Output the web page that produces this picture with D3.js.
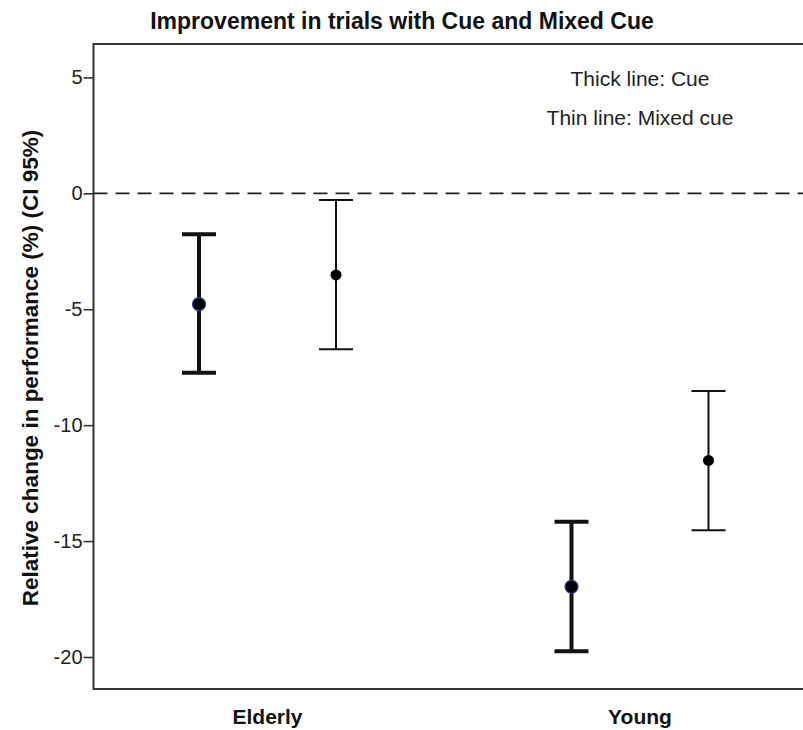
<!DOCTYPE html>
<html>
<head>
<meta charset="utf-8">
<script src="https://cdn.jsdelivr.net/npm/d3@7"></script>
<style>
  body { margin: 0; background: #fff; }
  svg { display: block; font-family: "Liberation Sans", Arial, sans-serif; }
</style>
</head>
<body>
<div id="chart"></div>
<script>
// data
const groups = ["Elderly", "Young"];
const series = ["Cue", "Mixed cue"];
const means = [[-4.78, -3.52], [-16.97, -11.52]];
const lower = [[-7.74, -6.73], [-19.75, -14.53]];
const upper = [[-1.77, -0.29], [-14.17, -8.53]];
const yTicks = [5, 0, -5, -10, -15, -20];
const legendLines = ["Thick line: Cue", "Thin line: Mixed cue"];

const w = 803, h = 730;
const plotLeft = 93.5, plotTop = 44, plotBottom = 689;

const svg = d3.select("#chart").append("svg")
  .attr("width", w).attr("height", h);

// scales
const y = d3.scaleLinear().domain([6.44, -21.38]).range([plotTop, plotBottom]);
const x = d3.scalePoint().domain(groups).range([267.5, 640]);
const off = d3.scalePoint().domain(series).range([-68.5, 68.5]);

const rows = [];
groups.forEach((g, i) => series.forEach((s, j) => rows.push({
  g, s, m: means[i][j], lo: lower[i][j], hi: upper[i][j]
})));

// title
svg.append("text")
  .attr("x", 402).attr("y", 29)
  .attr("text-anchor", "middle")
  .attr("font-size", 23).attr("font-weight", "bold").attr("fill", "#111")
  .text("Improvement in trials with Cue and Mixed Cue");

// frame (right side runs off the picture)
svg.append("path")
  .attr("d", `M${w + 10},${plotTop}H${plotLeft}V${plotBottom}H${w + 10}`)
  .attr("fill", "none").attr("stroke", "#333").attr("stroke-width", 2);

// zero reference line
svg.append("line")
  .attr("x1", plotLeft).attr("x2", w)
  .attr("y1", y(0)).attr("y2", y(0))
  .attr("stroke", "#222").attr("stroke-width", 1.8)
  .attr("stroke-dasharray", "14,8");

// y axis
const yAxis = d3.axisLeft(y).tickValues(yTicks).tickSize(10).tickPadding(1)
  .tickFormat(d => String(d));
svg.append("g")
  .attr("transform", `translate(${plotLeft},0)`)
  .call(yAxis)
  .call(g => g.select(".domain").remove())
  .call(g => g.selectAll("line").attr("stroke", "#333").attr("stroke-width", 1.6))
  .call(g => g.selectAll("text").attr("font-size", 20).attr("fill", "#222")
    .attr("font-family", "Liberation Sans, Arial, sans-serif"));

// x category labels
svg.selectAll(".cat").data(groups).enter().append("text")
  .attr("class", "cat")
  .attr("x", d => x(d)).attr("y", 724)
  .attr("text-anchor", "middle")
  .attr("font-size", 21).attr("font-weight", "bold").attr("fill", "#111")
  .text(d => d);

// y label
svg.append("text")
  .attr("transform", "translate(38,368) rotate(-90)")
  .attr("text-anchor", "middle")
  .attr("font-size", 22.5).attr("font-weight", "bold").attr("fill", "#111")
  .text("Relative change in performance (%) (CI 95%)");

// error bars
const cap = 17;
const sw = s => s === "Cue" ? 4 : 2;
const bars = svg.append("g").selectAll("g").data(rows).enter().append("g")
  .attr("transform", d => `translate(${x(d.g) + off(d.s)},0)`);
bars.append("line")
  .attr("y1", d => y(d.lo)).attr("y2", d => y(d.hi))
  .attr("stroke", "#111").attr("stroke-width", d => sw(d.s));
bars.append("line")
  .attr("x1", -cap).attr("x2", cap)
  .attr("y1", d => y(d.hi)).attr("y2", d => y(d.hi))
  .attr("stroke", "#111").attr("stroke-width", d => sw(d.s));
bars.append("line")
  .attr("x1", -cap).attr("x2", cap)
  .attr("y1", d => y(d.lo)).attr("y2", d => y(d.lo))
  .attr("stroke", "#111").attr("stroke-width", d => sw(d.s));
bars.append("circle")
  .attr("cy", d => y(d.m))
  .attr("r", d => d.s === "Cue" ? 6.5 : 5.5)
  .attr("fill", "#000")
  .attr("stroke", d => d.s === "Cue" ? "#2a3f8f" : "none")
  .attr("stroke-width", 1.2);

// legend note
svg.selectAll(".note").data(legendLines).enter().append("text")
  .attr("class", "note")
  .attr("x", 640).attr("y", (d, i) => 86 + i * 39)
  .attr("text-anchor", "middle")
  .attr("font-size", 21).attr("fill", "#222")
  .text(d => d);
</script>
</body>
</html>
